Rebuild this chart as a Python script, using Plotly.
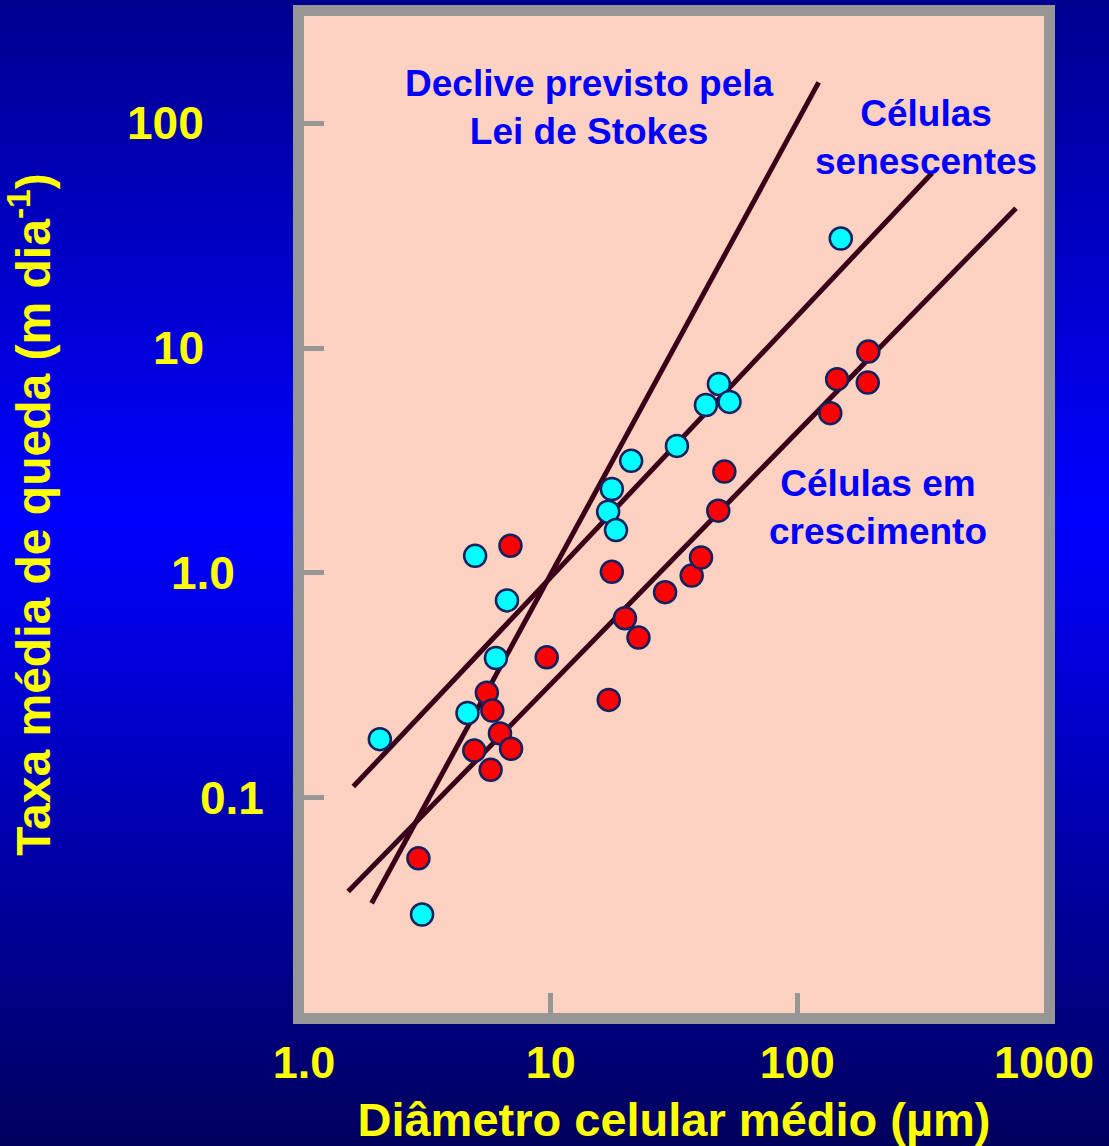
import base64
import math
import plotly.graph_objects as go

# ---------------- data ----------------
senescent_diam = [2.03, 3.01, 4.94, 6.65, 6.00, 4.60, 17.7, 17.1, 18.4, 21.2, 32.5, 42.6, 48.1, 53.1, 150]
senescent_rate = [0.182, 0.0302, 1.19, 0.754, 0.418, 0.238, 2.36, 1.87, 1.55, 3.15, 3.67, 5.58, 6.92, 5.76, 30.7]

growing_diam = [6.87, 9.64, 5.51, 5.80, 6.23, 6.91, 4.90, 5.71, 2.91, 17.7, 20.0, 22.7,
                17.2, 29.1, 37.3, 40.7, 47.8, 50.6, 194, 145, 193, 136]
growing_rate = [1.32, 0.421, 0.293, 0.244, 0.193, 0.165, 0.162, 0.133, 0.0537, 1.01, 0.628, 0.515,
                0.272, 0.820, 0.972, 1.17, 1.89, 2.82, 9.64, 7.27, 7.02, 5.13]

stokes_line_diam = [1.88, 122]
stokes_line_rate = [0.0339, 152]
senescent_fit_diam = [1.585, 352]
senescent_fit_rate = [0.112, 60.1]
growing_fit_diam = [1.51, 770]
growing_fit_rate = [0.0382, 41.9]

x_tick_values = [1, 10, 100, 1000]
x_tick_labels = ["1.0", "10", "100", "1000"]
y_tick_values = [100, 10, 1, 0.1]
y_tick_labels = ["100", "10", "1.0", "0.1"]

# ---------------- layout geometry ----------------
W, H = 1109, 1146
L, R, T, B = 304, 1044, 16, 1013
PW, PH = R - L, B - T


def paper_x(px):
    return (px - L) / PW


def paper_y(py):
    return (B - py) / PH


FONT = "Liberation Sans, Arial, Helvetica, sans-serif"
YELLOW = "#ffff00"
BLUE = "#0000ff"
GRAY = "#969696"
LINE = "#3a0019"
EDGE = "#14215e"
PINK = "#fbd1c1"

fig = go.Figure()

for xs, ys, name in [
    (stokes_line_diam, stokes_line_rate, "Lei de Stokes"),
    (senescent_fit_diam, senescent_fit_rate, "Ajuste senescentes"),
    (growing_fit_diam, growing_fit_rate, "Ajuste crescimento"),
]:
    fig.add_trace(go.Scatter(x=xs, y=ys, mode="lines", name=name,
                             line=dict(color=LINE, width=5), showlegend=False,
                             hoverinfo="skip"))

fig.add_trace(go.Scatter(x=senescent_diam, y=senescent_rate, mode="markers",
                         name="Células senescentes", showlegend=False,
                         marker=dict(size=22, color="#00ffff", line=dict(color=EDGE, width=2.5))))
fig.add_trace(go.Scatter(x=growing_diam, y=growing_rate, mode="markers",
                         name="Células em crescimento", showlegend=False,
                         marker=dict(size=22, color="#ff0000", line=dict(color=EDGE, width=2.5))))

# gradient background (inline SVG, no network)
svg = (
    f'<svg xmlns="http://www.w3.org/2000/svg" width="{W}" height="{H}" viewBox="0 0 {W} {H}" '
    'preserveAspectRatio="none"><defs><linearGradient id="g" x1="0" y1="0" x2="0" y2="1">'
    '<stop offset="0" stop-color="#00008e"/><stop offset="0.45" stop-color="#0000ff"/>'
    '<stop offset="1" stop-color="#00005c"/></linearGradient></defs>'
    f'<rect width="{W}" height="{H}" fill="url(#g)"/></svg>'
)
src = "data:image/svg+xml;base64," + base64.b64encode(svg.encode()).decode()

annotations = []
# y tick labels (staggered as in the reference)
for val, txt, right_px in zip(y_tick_values, y_tick_labels, [206, 206, 237, 266]):
    annotations.append(dict(text=txt, xref="paper", x=paper_x(right_px), xanchor="right",
                            yref="y", y=math.log10(val), yanchor="middle", showarrow=False,
                            font=dict(family=FONT, size=46, color=YELLOW, weight="bold")))

for txt, cx, cy in [
    ("Declive previsto pela<br>Lei de Stokes", 589.5, 108),
    ("Células<br>senescentes", 926, 138),
    ("Células em<br>crescimento", 878, 507),
]:
    annotations.append(dict(text=txt, xref="paper", x=paper_x(cx), xanchor="center",
                            yref="paper", y=paper_y(cy), yanchor="middle", showarrow=False,
                            align="center",
                            font=dict(family=FONT, size=37, color=BLUE, weight="bold")))

fig.update_layout(
    width=W, height=H,
    margin=dict(l=L, r=W - R, t=T, b=H - B, autoexpand=False),
    paper_bgcolor="#0000b0",
    plot_bgcolor=PINK,
    showlegend=False,
    images=[dict(source=src, xref="paper", yref="paper", x=paper_x(0), y=paper_y(0),
                 sizex=W / PW, sizey=H / PH, xanchor="left", yanchor="top",
                 sizing="stretch", layer="below")],
    shapes=[dict(type="rect", xref="x domain", yref="y domain", x0=0, x1=1, y0=0, y1=1,
                 fillcolor=PINK, line=dict(width=0), layer="below")],
    annotations=annotations,
    xaxis=dict(
        type="log", range=[0, 3], showgrid=False, zeroline=False,
        showline=True, linecolor=GRAY, linewidth=11, mirror=True,
        ticks="inside", ticklen=20, tickwidth=5, tickcolor=GRAY,
        tickvals=x_tick_values, ticktext=x_tick_labels,
        ticklabelstandoff=0,
        tickfont=dict(family=FONT, size=45, color=YELLOW, weight="bold"),
        title=dict(text="Diâmetro celular médio (µm)", standoff=29,
                   font=dict(family=FONT, size=47, color=YELLOW, weight="bold")),
    ),
    yaxis=dict(
        type="log", range=[-1.958, 2.477], showgrid=False, zeroline=False,
        showline=True, linecolor=GRAY, linewidth=11, mirror=True,
        ticks="inside", ticklen=20, tickwidth=5, tickcolor=GRAY,
        tickvals=y_tick_values, showticklabels=False,
        title=dict(text="Taxa média de queda (m dia<sup>-1</sup>)", standoff=233,
                   font=dict(family=FONT, size=48, color=YELLOW, weight="bold")),
    ),
)

fig.write_html(
    "out.html",
    config={"displayModeBar": False},
    post_script="document.body.style.margin='0';document.body.style.padding='0';"
                "document.body.style.overflow='hidden';",
)
